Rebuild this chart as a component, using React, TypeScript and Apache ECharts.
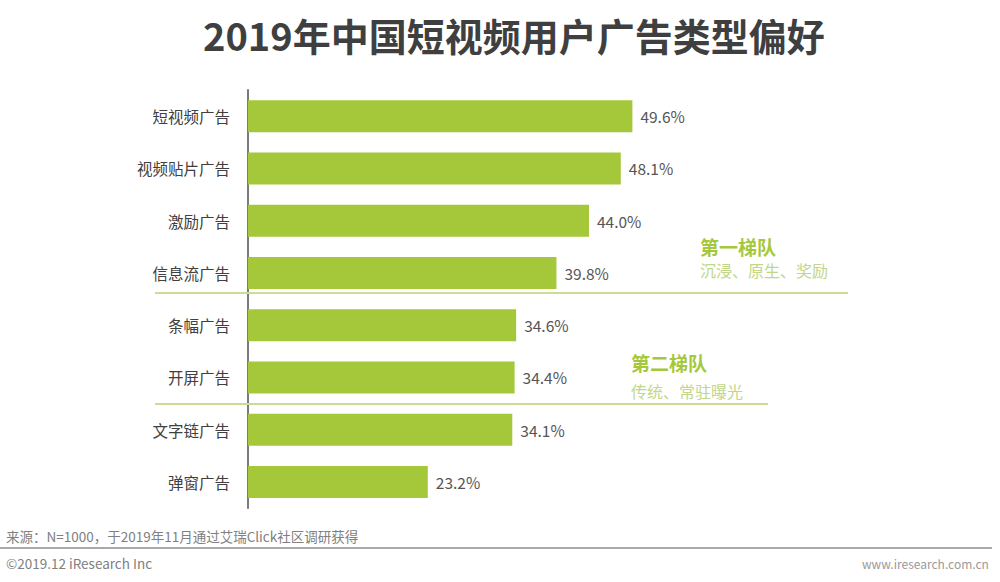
import React, { useEffect, useRef } from "react";
import * as echarts from "echarts";

const categories = ["短视频广告", "视频贴片广告", "激励广告", "信息流广告", "条幅广告", "开屏广告", "文字链广告", "弹窗广告"];
const values = [49.6, 48.1, 44.0, 39.8, 34.6, 34.4, 34.1, 23.2];
const titleText = "2019年中国短视频用户广告类型偏好";
const tier1Title = "第一梯队";
const tier1Sub = "沉浸、原生、奖励";
const tier2Title = "第二梯队";
const tier2Sub = "传统、常驻曝光";
const sourceText = "来源：N=1000，于2019年11月通过艾瑞Click社区调研获得";
const copyrightText = "©2019.12 iResearch Inc";

const FONT = "'Noto Sans CJK SC', 'Noto Sans', sans-serif";

export default function App() {
  const ref = useRef<HTMLDivElement>(null);
  useEffect(() => {
    if (!ref.current) return;
    const chart = echarts.init(ref.current, null, { renderer: "svg" });
    chart.setOption({
      animation: false,
      backgroundColor: "#ffffff",
      textStyle: { fontFamily: FONT },
      title: {
        text: titleText,
        left: 198,
        top: 10,
        textStyle: { fontSize: 38, fontWeight: "bold", color: "#3f3f3f", fontFamily: FONT },
      },
      grid: { left: 248, top: 90, width: 465, height: 418 },
      xAxis: {
        type: "value",
        min: 0,
        max: 60,
        show: false,
      },
      yAxis: {
        type: "category",
        data: categories,
        inverse: true,
        axisLine: { show: true, lineStyle: { color: "#7a7a7a", width: 2 } },
        axisTick: { show: false },
        axisLabel: { fontSize: 15.5, color: "#404040", margin: 18, fontFamily: FONT },
      },
      series: [
        {
          type: "bar",
          data: values,
          barWidth: 32,
          itemStyle: { color: "#a5c83a" },
          label: {
            show: true,
            position: "right",
            distance: 8,
            fontSize: 15.5,
            color: "#555555",
            fontFamily: FONT,
            formatter: (p: any) => p.value.toFixed(1) + "%",
          },
        },
      ],
      graphic: [
        { type: "line", shape: { x1: 155, y1: 293, x2: 848, y2: 293 }, style: { stroke: "#cbdc96", lineWidth: 2 }, z: 10 },
        { type: "line", shape: { x1: 155, y1: 404, x2: 768, y2: 404 }, style: { stroke: "#cbdc96", lineWidth: 2 }, z: 10 },
        { type: "text", x: 700, y: 246, style: { text: tier1Title, fontSize: 19, fontWeight: "bold", fill: "#a5c83a", fontFamily: FONT, textVerticalAlign: "middle" } },
        { type: "text", x: 700, y: 270, style: { text: tier1Sub, fontSize: 16, fill: "#c2d68a", fontFamily: FONT, textVerticalAlign: "middle" } },
        { type: "text", x: 631, y: 362, style: { text: tier2Title, fontSize: 19, fontWeight: "bold", fill: "#a5c83a", fontFamily: FONT, textVerticalAlign: "middle" } },
        { type: "text", x: 631, y: 391, style: { text: tier2Sub, fontSize: 16, fill: "#c2d68a", fontFamily: FONT, textVerticalAlign: "middle" } },
        { type: "text", x: 6, y: 536, style: { text: sourceText, fontSize: 13.5, fill: "#808080", fontFamily: FONT, textVerticalAlign: "middle" } },
        { type: "line", shape: { x1: 0, y1: 548, x2: 992, y2: 548 }, style: { stroke: "#8c8c8c", lineWidth: 1.5 } },
        { type: "text", x: 6, y: 563, style: { text: copyrightText, fontSize: 13.5, fill: "#808080", fontFamily: FONT, textVerticalAlign: "middle" } },
        { type: "text", x: 862, y: 563, style: { text: "www.iresearch.com.cn", fontSize: 12, fill: "#9a9a9a", fontFamily: FONT, textVerticalAlign: "middle" } },
      ],
    });
    return () => chart.dispose();
  }, []);
  return <div ref={ref} style={{ width: 1000, height: 582, position: "absolute", left: 0, top: 0 }} />;
}
